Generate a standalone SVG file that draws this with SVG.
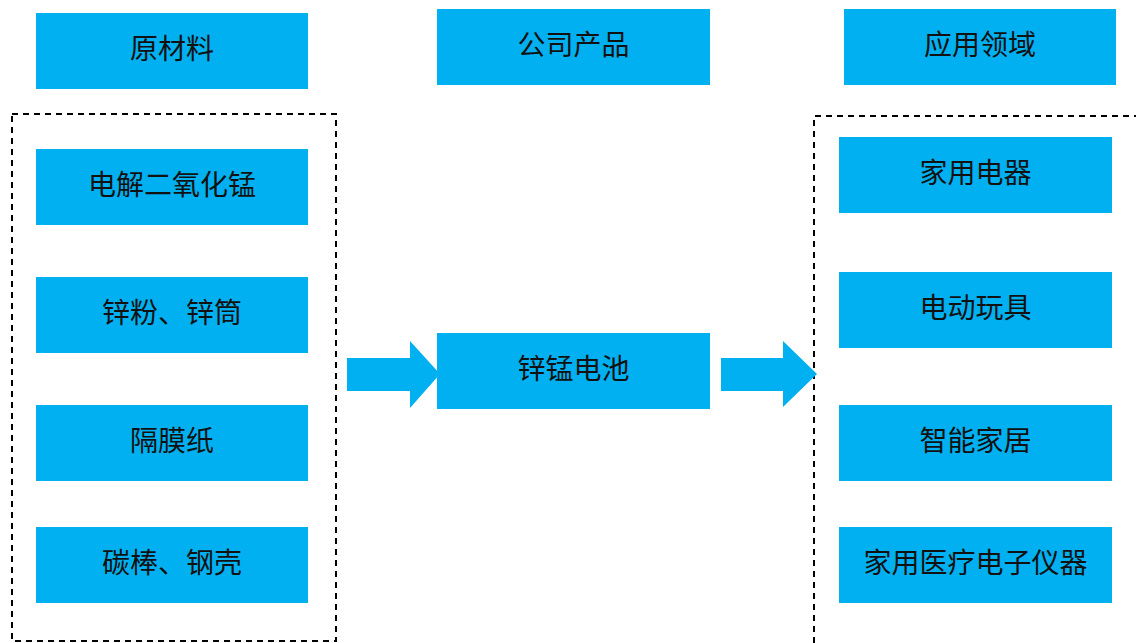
<svg xmlns="http://www.w3.org/2000/svg" width="1136" height="643" viewBox="0 0 1136 643">
<style>
.b{fill:#00B0F0;}
.t{font-family:"Noto Sans CJK SC","Liberation Sans",sans-serif;font-size:28px;fill:#111;text-anchor:middle;dominant-baseline:central;}
.d{fill:none;stroke:#000;stroke-width:2;stroke-dasharray:6,5;}
</style>
<rect width="1136" height="643" fill="#fff"/>
<g id="frames">
<rect class="d" x="12" y="114" width="324" height="527"/>
<path class="d" d="M1140,116 H814 V643"/>
</g>
<g id="hdr-raw"><rect class="b" x="36" y="13" width="272" height="76"/><text class="t" x="172" y="47">原材料</text></g>
<g id="hdr-product"><rect class="b" x="437" y="9" width="273" height="76"/><text class="t" x="573.5" y="43">公司产品</text></g>
<g id="hdr-app"><rect class="b" x="844" y="9" width="272" height="76"/><text class="t" x="980" y="43">应用领域</text></g>
<g id="raw1"><rect class="b" x="36" y="149" width="272" height="76"/><text class="t" x="172" y="183">电解二氧化锰</text></g>
<g id="raw2"><rect class="b" x="36" y="277" width="272" height="76"/><text class="t" x="172" y="311">锌粉、锌筒</text></g>
<g id="raw3"><rect class="b" x="36" y="405" width="272" height="76"/><text class="t" x="172" y="439">隔膜纸</text></g>
<g id="raw4"><rect class="b" x="36" y="527" width="272" height="76"/><text class="t" x="172" y="561">碳棒、钢壳</text></g>
<g id="product"><rect class="b" x="437" y="333" width="273" height="76"/><text class="t" x="573.5" y="367">锌锰电池</text></g>
<g id="app1"><rect class="b" x="839" y="137" width="273" height="76"/><text class="t" x="975.5" y="171">家用电器</text></g>
<g id="app2"><rect class="b" x="839" y="272" width="273" height="76"/><text class="t" x="975.5" y="306">电动玩具</text></g>
<g id="app3"><rect class="b" x="839" y="405" width="273" height="76"/><text class="t" x="975.5" y="439">智能家居</text></g>
<g id="app4"><rect class="b" x="839" y="527" width="273" height="76"/><text class="t" x="975.5" y="561">家用医疗电子仪器</text></g>
<g id="connectors">
<polygon class="b" points="347,358 410,358 410,341 440,374 410,408 410,391 347,391"/>
<polygon class="b" points="721,358 783,358 783,341 817,374 783,407 783,391 721,391"/>
</g>
</svg>
